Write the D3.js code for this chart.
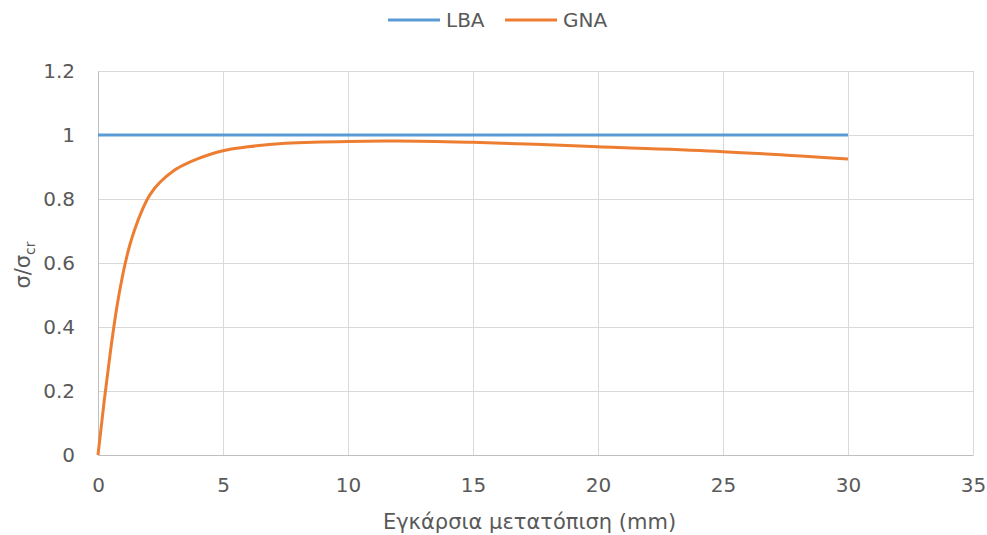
<!DOCTYPE html>
<html>
<head>
<meta charset="utf-8">
<script src="https://cdn.jsdelivr.net/npm/d3@7"></script>
<style>
  html, body { margin: 0; padding: 0; background: #fff; }
  svg { display: block; }
  text { font-family: "DejaVu Sans", Verdana, sans-serif; fill: #595959; }
</style>
</head>
<body>
<svg id="chart" width="987" height="535"></svg>
<script>
// Transverse displacement (mm) vs normalised stress σ/σcr
const lbaX = [0, 30];
const lbaY = [1, 1];

const gnaX = [0, 0.25, 0.5, 0.75, 1.0, 1.25, 1.5, 1.75, 2.0, 2.25, 2.5, 3.0, 3.5, 4.0, 4.5, 5.0, 6, 7.5, 10, 12, 15, 17.5, 20, 25, 30];
const gnaY = [0, 0.17, 0.325, 0.46, 0.567, 0.65, 0.712, 0.762, 0.803, 0.832, 0.854, 0.887, 0.909, 0.926, 0.94, 0.951, 0.963, 0.974, 0.98, 0.981, 0.977, 0.971, 0.963, 0.948, 0.925];

const xTicks = [0, 5, 10, 15, 20, 25, 30, 35];
const yTicks = [0, 0.2, 0.4, 0.6, 0.8, 1, 1.2];
const yTickLabels = ["0", "0.2", "0.4", "0.6", "0.8", "1", "1.2"];

const seriesNames = ["LBA", "GNA"];
const seriesColors = ["#5B9BD5", "#ED7D31"];

const svg = d3.select("#chart");
const margin = { left: 98, right: 14, top: 71, bottom: 80 };
const W = 987, H = 535;

const x = d3.scaleLinear().domain([0, 35]).range([margin.left, W - margin.right]);
const y = d3.scaleLinear().domain([0, 1.2]).range([H - margin.bottom, margin.top]);

// gridlines
const grid = svg.append("g");
grid.selectAll("line.h").data(yTicks).enter().append("line")
  .attr("x1", x(0)).attr("x2", x(35))
  .attr("y1", d => y(d)).attr("y2", d => y(d))
  .attr("stroke", "#d9d9d9").attr("stroke-width", 1).attr("shape-rendering", "crispEdges");
grid.selectAll("line.v").data(xTicks).enter().append("line")
  .attr("y1", y(0)).attr("y2", y(1.2))
  .attr("x1", d => x(d)).attr("x2", d => x(d))
  .attr("stroke", "#d9d9d9").attr("stroke-width", 1).attr("shape-rendering", "crispEdges");

// axes
const xAxis = svg.append("g")
  .attr("transform", `translate(0,${y(0)})`)
  .call(d3.axisBottom(x).tickValues(xTicks).tickSize(0).tickPadding(23).tickFormat(d3.format("d")));
xAxis.select(".domain").attr("stroke", "#bfbfbf");
xAxis.selectAll("text").style("font-size", "20px").attr("fill", "#595959");

const yAxis = svg.append("g")
  .attr("transform", `translate(${x(0)},0)`)
  .call(d3.axisLeft(y).tickValues(yTicks).tickSize(0).tickPadding(23)
    .tickFormat((d, i) => yTickLabels[i]));
yAxis.select(".domain").attr("stroke", "#bfbfbf");
yAxis.selectAll("text").style("font-size", "20px").attr("fill", "#595959");

// series
const line = d3.line().x(d => x(d[0])).y(d => y(d[1])).curve(d3.curveMonotoneX);
svg.append("path")
  .datum(lbaX.map((v, i) => [v, lbaY[i]]))
  .attr("d", line).attr("fill", "none")
  .attr("stroke", seriesColors[0]).attr("stroke-width", 3);
svg.append("path")
  .datum(gnaX.map((v, i) => [v, gnaY[i]]))
  .attr("d", line).attr("fill", "none")
  .attr("stroke", seriesColors[1]).attr("stroke-width", 3);

// legend
const legend = svg.append("g");
const legendPos = [388, 505];
seriesNames.forEach((name, i) => {
  legend.append("line")
    .attr("x1", legendPos[i]).attr("x2", legendPos[i] + 52)
    .attr("y1", 20).attr("y2", 20)
    .attr("stroke", seriesColors[i]).attr("stroke-width", 3);
  legend.append("text")
    .attr("x", legendPos[i] + 58).attr("y", 27)
    .style("font-size", "20px").text(name);
});

// axis titles
svg.append("text")
  .attr("x", (x(0) + x(35)) / 2 - 6).attr("y", 529)
  .attr("text-anchor", "middle").style("font-size", "21px")
  .text("Εγκάρσια μετατόπιση (mm)");

const yt = svg.append("text")
  .attr("transform", `translate(30,265) rotate(-90)`)
  .attr("text-anchor", "middle").style("font-size", "21px");
yt.append("tspan").text("σ/σ");
yt.append("tspan").attr("dy", 5).style("font-size", "14px").text("cr");
</script>
</body>
</html>
